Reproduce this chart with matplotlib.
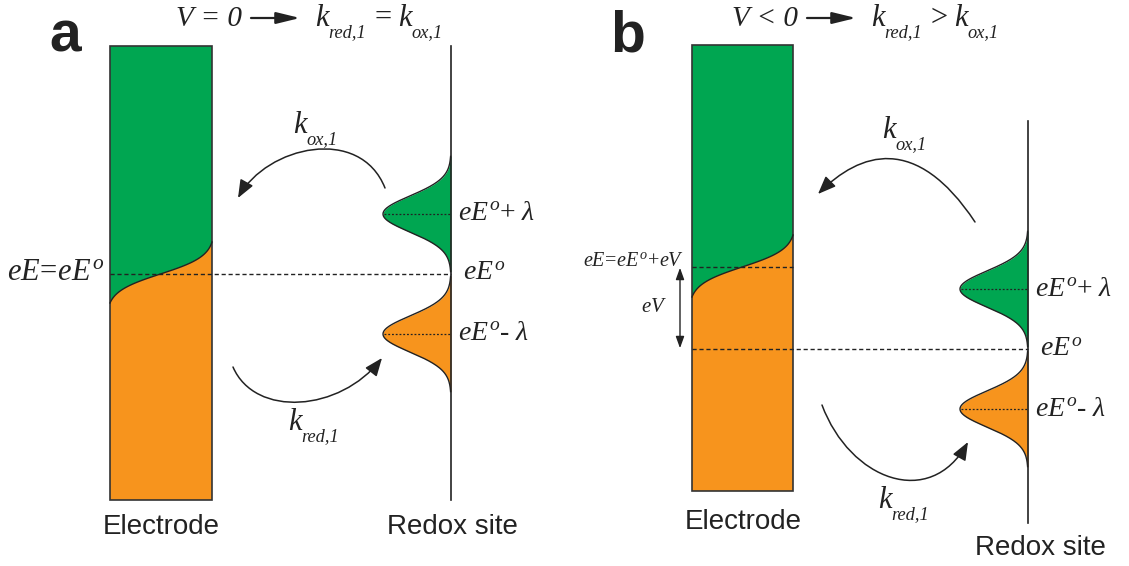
import numpy as np
import matplotlib.pyplot as plt
from matplotlib.path import Path
from matplotlib.patches import FancyArrowPatch, Polygon, Rectangle

plt.rcParams['mathtext.fontset'] = 'custom'
plt.rcParams['mathtext.rm'] = 'Liberation Serif'
plt.rcParams['mathtext.it'] = 'Liberation Serif:italic'
plt.rcParams['mathtext.bf'] = 'Liberation Serif:bold'
plt.rcParams['font.family'] = ['Liberation Sans', 'DejaVu Sans']

GREEN = '#00a651'
ORANGE = '#f7941d'
INK = '#222222'
SERIF = ['Liberation Serif', 'DejaVu Serif']

# energies are drawn on a pixel-like scale, y grows downward
panel_names = ['a', 'b']
bias_text = ['V = 0', 'V < 0']
rate_relation = ['=', '>']
fermi_level = [274, 267]
formal_level = [274, 349]
reorg = [60, 60]
dos_width = [18, 18]
level_labels = [r'$eE^{o}$+ $\lambda$', r'$eE^{o}$', r'$eE^{o}$- $\lambda$']

# layout of each panel (pixels)
layout = [
    dict(tag=(65, 36), title_x=176,
         el=(110, 212, 46, 500), site=(451, 46, 500), peak_x=383,
         lab_x=458, el_lab=(161, 527), site_lab=(452, 527),
         ox=[(385, 188), (360, 125), (267, 146), (238, 198)],
         red=[(233, 367), (255, 418), (340, 412), (382, 358)],
         ox_lab=(293, 133), red_lab=(288, 430), curve=(32, 29)),
    dict(tag=(628, 36), title_x=732,
         el=(692, 793, 45, 491), site=(1028, 121, 523), peak_x=960,
         lab_x=1035, el_lab=(743, 522), site_lab=(1040, 548),
         ox=[(975, 222), (916, 133), (860, 152), (818, 194)],
         red=[(822, 405), (850, 480), (930, 510), (968, 442)],
         ox_lab=(882, 138), red_lab=(878, 508), curve=(32, 30)),
]

fig = plt.figure(figsize=(11.29, 5.66), dpi=100)
ax = fig.add_axes([0, 0, 1, 1])
ax.set_xlim(0, 1129)
ax.set_ylim(566, 0)
ax.axis('off')
renderer = fig.canvas.get_renderer()


def chain(x, y, parts):
    # italic serif pieces set one after another; (text, size, drop, gap)
    for txt, size, drop, gap in parts:
        x += gap
        t = ax.text(x, y + drop, txt, fontsize=size, family=SERIF,
                    style='italic', ha='left', va='baseline', color=INK)
        x += t.get_window_extent(renderer).width
    return x


def rate_symbol(x, y, sub, size=22):
    return chain(x, y, [('k', size, 0, 0), (sub, size * 0.6, size * 0.5, 0)])


def curved_arrow(pts):
    codes = [Path.MOVETO, Path.CURVE4, Path.CURVE4, Path.CURVE4]
    arr = FancyArrowPatch(path=Path(pts, codes),
                          arrowstyle='-|>,head_length=0.55,head_width=0.22',
                          mutation_scale=20, lw=1.1, color=INK)
    ax.add_patch(arr)


for i, L in enumerate(layout):
    # panel tag and title
    ax.text(*L['tag'], panel_names[i], fontsize=41, fontweight='bold',
            ha='center', va='center', color=INK)
    x = chain(L['title_x'], 26, [(bias_text[i], 21, 0, 0)])
    ax.annotate('', xy=(x + 58, 18), xytext=(x + 9, 18),
                arrowprops=dict(arrowstyle='-|>,head_length=0.9,head_width=0.22',
                                lw=1.6, color=INK, mutation_scale=16,
                                shrinkA=0, shrinkB=0))
    x = rate_symbol(x + 73, 26, 'red,1')
    x = chain(x, 26, [(rate_relation[i], 22, 0, 6)])
    rate_symbol(x + 5, 26, 'ox,1')

    # electrode: filled/empty states split by a Fermi edge
    x0, x1, top, bot = L['el']
    ef = fermi_level[i]
    up, down = L['curve']
    ys = np.linspace(ef - up, ef + down, 120)
    occ = 1 / (1 + np.exp((ys - ef) / 9.0))
    occ = (occ - occ[-1]) / (occ[0] - occ[-1])
    xs = x0 + (x1 - x0) * occ
    green = [(x0, top), (x1, top)] + list(zip(xs, ys)) + [(x0, ef + down)]
    orange = list(zip(xs, ys)) + [(x0, bot), (x1, bot)]
    ax.add_patch(Polygon(green, closed=True, fc=GREEN, ec='none'))
    ax.add_patch(Polygon(orange, closed=True, fc=ORANGE, ec='none'))
    ax.plot(xs, ys, color=INK, lw=1.0)
    ax.add_patch(Rectangle((x0, top), x1 - x0, bot - top, fill=False,
                           ec='#333333', lw=1.2))

    # redox site: two gaussian densities of states
    sx, stop, sbot = L['site']
    e0 = formal_level[i]
    amp = sx - L['peak_x']
    for centre, col in [(e0 - reorg[i], GREEN), (e0 + reorg[i], ORANGE)]:
        yy = np.linspace(centre - 3.2 * dos_width[i], centre + 3.2 * dos_width[i], 200)
        xx = sx - amp * np.exp(-(yy - centre) ** 2 / (2 * dos_width[i] ** 2))
        ax.fill_betweenx(yy, xx, sx, color=col, lw=0)
        ax.plot(xx, yy, color=INK, lw=1.0)
        ax.plot([L['peak_x'] + 1, sx], [centre, centre], color=INK,
                lw=0.9, ls=(0, (1.5, 1.5)))
    ax.plot([sx, sx], [stop, sbot], color=INK, lw=1.2)

    for lvl, lab in zip([e0 - reorg[i], e0, e0 + reorg[i]], level_labels):
        dx = 5 if lab == level_labels[1] else 0
        ax.text(L['lab_x'] + dx, lvl, lab, fontsize=20, family=SERIF,
                ha='left', va='center', color=INK)

    # electron transfer arrows
    curved_arrow(L['ox'])
    curved_arrow(L['red'])
    rate_symbol(*L['ox_lab'], 'ox,1')
    rate_symbol(*L['red_lab'], 'red,1')

    ax.text(*L['el_lab'], 'Electrode', fontsize=20, ha='center', va='center',
            color=INK)
    ax.text(*L['site_lab'], 'Redox site', fontsize=20, ha='center', va='center',
            color=INK)

# panel a: Fermi level equals the formal potential
ax.plot([110, 451], [fermi_level[0], fermi_level[0]], color=INK, lw=1.0,
        ls=(0, (3, 2)))
ax.text(104, fermi_level[0] - 2, r'$eE\!=\!eE^{o}$', fontsize=22, family=SERIF,
        ha='right', va='center', color=INK)

# panel b: Fermi level shifted by the bias
ax.plot([692, 793], [fermi_level[1], fermi_level[1]], color=INK, lw=1.0,
        ls=(0, (3, 2)))
ax.plot([692, 1028], [formal_level[1], formal_level[1]], color=INK, lw=1.0,
        ls=(0, (3, 2)))
ax.annotate('', xy=(680, formal_level[1] + 2), xytext=(680, fermi_level[1] - 2),
            arrowprops=dict(arrowstyle='<|-|>,head_length=0.5,head_width=0.18',
                            lw=1.0, color=INK, mutation_scale=14))
ax.text(684, fermi_level[1] - 5, r'$eE\!=\!eE^{o}\!+\!eV$', fontsize=14.5,
        family=SERIF, ha='right', va='center', color=INK)
ax.text(667, (fermi_level[1] + formal_level[1]) / 2, r'$eV$', fontsize=15,
        family=SERIF, ha='right', va='center', color=INK)

fig.savefig('out.png', dpi=100)
